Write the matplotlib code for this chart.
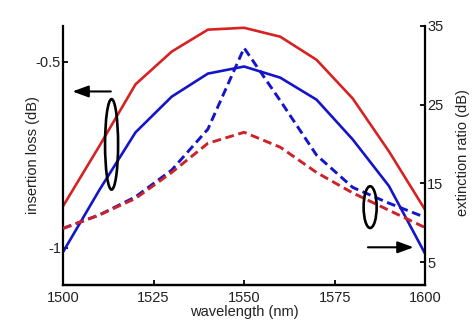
import matplotlib
matplotlib.use("Agg")
from matplotlib import pyplot as plt
from matplotlib.patches import Ellipse

plt.rcParams['font.family'] = ['Liberation Sans', 'DejaVu Sans']

wavelength = [1500, 1510, 1520, 1530, 1540, 1550, 1560, 1570, 1580, 1590, 1600]

# insertion loss (dB), left axis
il_red = [-0.888, -0.727, -0.561, -0.473, -0.414, -0.409, -0.433, -0.495, -0.599, -0.741, -0.898]
il_blue = [-1.011, -0.845, -0.690, -0.594, -0.532, -0.513, -0.543, -0.602, -0.709, -0.834, -1.016]

# extinction ratio (dB), right axis
er_red = [9.3, 11.0, 13.1, 16.4, 20.1, 21.5, 19.6, 16.4, 13.8, 11.6, 9.4]
er_blue = [9.3, 11.0, 13.3, 16.7, 21.9, 32.2, 25.5, 18.6, 14.5, 12.5, 10.7]

xticks = [1500, 1525, 1550, 1575, 1600]
left_ticks = [-1, -0.5]
left_ticklabels = ['-1', '-0.5']
right_ticks = [5, 15, 25, 35]

red = '#d62223'
blue = '#1414c8'
red_d = '#cc2229'
txt = '#222222'

fig = plt.figure(figsize=(4.74, 3.24), dpi=100)
ax = fig.add_axes([0.133, 0.120, 0.764, 0.800])
ax2 = ax.twinx()

ax.plot(wavelength, il_red, color=red, lw=1.9)
ax.plot(wavelength, il_blue, color=blue, lw=1.9)
ax2.plot(wavelength, er_blue, color=blue, lw=2.1, dashes=(3.0, 1.6))
ax2.plot(wavelength, er_red, color=red_d, lw=2.1, dashes=(3.0, 1.6))

ax.set_xlim(1500, 1600)
ax.set_ylim(-1.1, -0.404)
ax2.set_ylim(2.1, 35)

ax.set_xticks(xticks)
ax.set_yticks(left_ticks)
ax.set_yticklabels(left_ticklabels)
ax2.set_yticks(right_ticks)

for a in (ax, ax2):
    a.spines['top'].set_visible(False)
    for s in ('left', 'right', 'bottom'):
        a.spines[s].set_linewidth(1.6)
    a.tick_params(direction='in', length=3.5, width=1.3, labelsize=10.5, colors='black',
                  labelcolor=txt, pad=1.5)
ax.tick_params(axis='x', pad=4)
ax.spines['right'].set_visible(False)
ax2.spines['left'].set_visible(False)

ax.set_xlabel('wavelength (nm)', fontsize=10.5, color=txt)
ax.set_ylabel('insertion loss (dB)', fontsize=10.5, color=txt)
ax2.set_ylabel('extinction ratio (dB)', fontsize=10.5, color=txt)
ax.xaxis.set_label_coords(0.5, -0.075)
ax.yaxis.set_label_coords(-0.064, 0.5)
ax2.yaxis.set_label_coords(1.086, 0.51)

# ellipses marking the curve groups
ax.add_patch(Ellipse((1513.4, -0.722), 3.6, 0.243, fill=False, ec='black', lw=1.9, zorder=5))
ax2.add_patch(Ellipse((1584.8, 12.0), 3.6, 5.3, fill=False, ec='black', lw=1.9, zorder=5))

# arrows pointing to the axes
arrow = dict(arrowstyle='-|>,head_length=0.6,head_width=0.22', color='black', lw=1.5,
             mutation_scale=16, shrinkA=0, shrinkB=0)
ax.annotate('', xy=(1502.6, -0.58), xytext=(1513.2, -0.58), arrowprops=arrow)
ax2.annotate('', xy=(1596.8, 6.9), xytext=(1584.2, 6.9), arrowprops=arrow)

fig.savefig('out.png', dpi=100)
